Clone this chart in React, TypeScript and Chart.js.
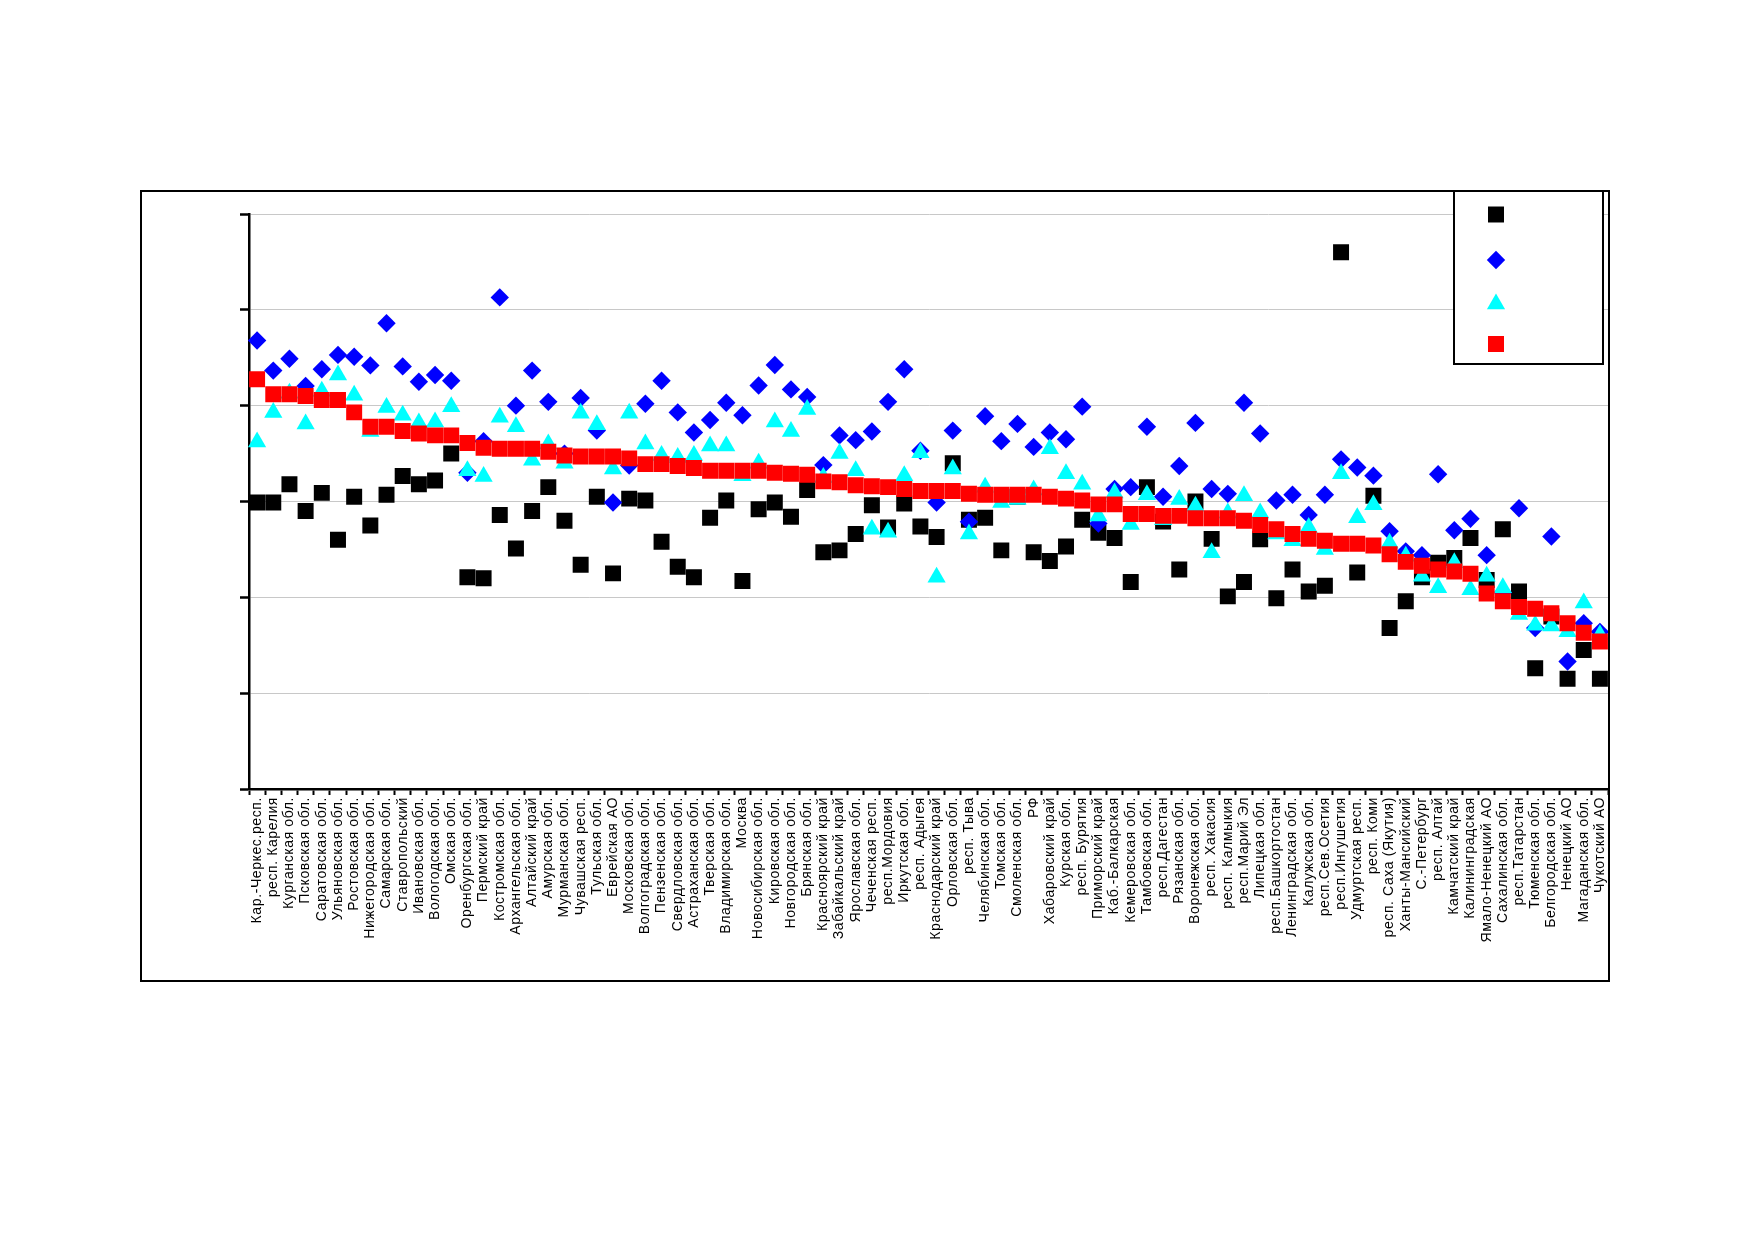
import React, { useEffect, useRef } from "react";
import { Chart, registerables } from "chart.js";
import { drawPoint } from "chart.js/helpers";

Chart.register(...registerables);

const categories = [
  "Кар.-Черкес.респ.", "респ. Карелия", "Курганская обл.", "Псковская обл.", "Саратовская обл.",
  "Ульяновская обл.", "Ростовская обл.", "Нижегородская обл.", "Самарская обл.", "Ставропольский",
  "Ивановская обл.", "Вологодская обл.", "Омская обл.", "Оренбургская обл.", "Пермский край",
  "Костромская обл.", "Архангельская обл.", "Алтайский край", "Амурская обл.", "Мурманская обл.",
  "Чувашская респ.", "Тульская обл.", "Еврейская АО", "Московская обл.", "Волгоградская обл.",
  "Пензенская обл.", "Свердловская обл.", "Астраханская обл.", "Тверская обл.", "Владимирская обл.",
  "Москва", "Новосибирская обл.", "Кировская обл.", "Новгородская обл.", "Брянская обл.",
  "Красноярский край", "Забайкальский край", "Ярославская обл.", "Чеченская респ.", "респ.Мордовия",
  "Иркутская обл.", "респ. Адыгея", "Краснодарский край", "Орловская обл.", "респ. Тыва",
  "Челябинская обл.", "Томская обл.", "Смоленская обл.", "РФ", "Хабаровский край",
  "Курская обл.", "респ. Бурятия", "Приморский край", "Каб.-Балкарская", "Кемеровская обл.",
  "Тамбовская обл.", "респ.Дагестан", "Рязанская обл.", "Воронежская обл.", "респ. Хакасия",
  "респ. Калмыкия", "респ.Марий Эл", "Липецкая обл.", "респ.Башкортостан", "Ленинградская обл.",
  "Калужская обл.", "респ.Сев.Осетия", "респ.Ингушетия", "Удмуртская респ.", "респ. Коми",
  "респ. Саха (Якутия)", "Ханты-Мансийский", "С.-Петербург", "респ. Алтай", "Камчатский край",
  "Калининградская", "Ямало-Ненецкий АО", "Сахалинская обл.", "респ.Татарстан", "Тюменская обл.",
  "Белгородская обл.", "Ненецкий АО", "Магаданская обл.", "Чукотский АО",
];

const blackValues = [
  29.9, 29.9, 31.8, 29.0, 30.9, 26.0, 30.5, 27.5, 30.7, 32.65,
  31.8, 32.2, 35.0, 22.1, 22.0, 28.6, 25.1, 29.0, 31.5, 28.0,
  23.4, 30.5, 22.5, 30.3, 30.1, 25.8, 23.2, 22.1, 28.3, 30.1,
  21.7, 29.2, 29.9, 28.4, 31.2, 24.7, 24.9, 26.6, 29.6, 27.3,
  29.8, 27.4, 26.3, 34.0, 28.1, 28.3, 24.9, 30.5, 24.7, 23.8,
  25.3, 28.1, 26.75, 26.2, 21.6, 31.5, 27.9, 22.9, 30.0, 26.1,
  20.1, 21.6, 26.05, 19.9, 22.9, 20.6, 21.2, 56.0, 22.6, 30.6,
  16.8, 19.6, 22.1, 23.6, 24.1, 26.2, 21.8, 27.1, 20.6, 12.6,
  18.0, 11.5, 14.5, 11.5,
];

const blueValues = [
  46.8, 43.66, 44.9, 42.05, 43.8, 45.3, 45.1, 44.2, 48.6, 44.1,
  42.5, 43.2, 42.6, 33.0, 36.3, 51.3, 40.0, 43.66, 40.4, 35.0,
  40.8, 37.4, 29.9, 33.75, 40.2, 42.6, 39.3, 37.2, 38.5, 40.3,
  39.0, 42.1, 44.25, 41.7, 40.9, 33.8, 36.9, 36.4, 37.3, 40.4,
  43.8, 35.3, 29.9, 37.4, 27.9, 38.9, 36.3, 38.1, 35.7, 37.2,
  36.5, 39.9, 27.7, 31.3, 31.5, 37.8, 30.5, 33.7, 38.2, 31.3,
  30.8, 40.3, 37.1, 30.1, 30.7, 28.6, 30.7, 34.4, 33.55, 32.7,
  26.9, 24.8, 24.4, 32.85, 27.0, 28.2, 24.4, 20.5, 29.3, 16.8,
  26.35, 13.3, 17.3, 16.4,
];

const cyanValues = [
  36.2, 39.3, 41.3, 38.1, 41.5, 43.2, 41.1, 37.3, 39.8, 39.0,
  38.2, 38.3, 39.9, 33.2, 32.6, 38.8, 37.8, 34.3, 36.0, 34.0,
  39.2, 38.0, 33.4, 39.2, 36.0, 34.8, 34.6, 34.8, 35.8, 35.8,
  32.7, 34.0, 38.3, 37.3, 39.6, 32.5, 35.0, 33.2, 27.1, 26.8,
  32.7, 35.1, 22.1, 33.4, 26.6, 31.5, 29.9, 30.2, 31.2, 35.5,
  32.9, 31.8, 28.5, 30.9, 27.6, 30.7, 28.1, 30.2, 29.5, 24.65,
  28.8, 30.6, 28.8, 26.6, 25.9, 27.3, 25.0, 32.9, 28.3, 29.65,
  25.65, 24.3, 22.2, 21.0, 23.6, 20.8, 22.2, 21.0, 18.2, 17.1,
  17.0, 16.4, 19.4, 16.1,
];

const redValues = [
  42.75, 41.2, 41.2, 41.0, 40.6, 40.6, 39.3, 37.8, 37.8, 37.35,
  37.1, 36.9, 36.9, 36.1, 35.6, 35.5, 35.5, 35.5, 35.2, 34.8,
  34.7, 34.7, 34.7, 34.5, 33.9, 33.9, 33.7, 33.5, 33.2, 33.2,
  33.2, 33.2, 33.0, 32.9, 32.8, 32.1, 32.0, 31.7, 31.6, 31.5,
  31.3, 31.1, 31.1, 31.1, 30.8, 30.7, 30.7, 30.7, 30.7, 30.5,
  30.3, 30.1, 29.7, 29.7, 28.7, 28.7, 28.5, 28.5, 28.25, 28.25,
  28.25, 28.0, 27.55, 27.1, 26.6, 26.1, 25.9, 25.6, 25.6, 25.4,
  24.5, 23.7, 23.3, 22.9, 22.7, 22.45, 20.4, 19.6, 19.0, 18.8,
  18.35, 17.3, 16.3, 15.4,
];

const yMin = 0;
const yMax = 60;
const yStep = 10;

// a bit of extra letter spacing for the category labels
const labelSpacing = {
  id: "labelSpacing",
  beforeDraw(chart: Chart) {
    (chart.ctx as any).letterSpacing = "0.6px";
  },
};

// legend in the top-right corner: bordered box, markers only
const legendBox = {
  id: "legendBox",
  afterDraw(chart: Chart) {
    const { ctx } = chart;
    const left = chart.width - 154;
    const right = chart.width - 5;
    const bottom = 172;
    ctx.save();
    ctx.fillStyle = "#fff";
    ctx.fillRect(left, 0, right - left, bottom);
    ctx.strokeStyle = "#000";
    ctx.lineWidth = 2;
    ctx.strokeRect(left, -4, right - left, bottom + 4);
    const rows = [22.5, 68, 112, 152];
    chart.data.datasets.forEach((ds: any, i: number) => {
      ctx.fillStyle = ds.pointBackgroundColor;
      ctx.strokeStyle = ds.pointBorderColor;
      drawPoint(ctx, { pointStyle: ds.pointStyle, radius: ds.pointRadius, borderWidth: 0, rotation: 0 }, left + 42, rows[i]);
    });
    ctx.restore();
  },
};

function markerSet(label: string, data: number[], color: string, style: string, radius: number, order: number) {
  return {
    label,
    data,
    showLine: false,
    pointStyle: style,
    pointRadius: radius,
    pointHoverRadius: radius,
    pointBackgroundColor: color,
    pointBorderColor: color,
    pointBorderWidth: 0,
    order,
  };
}

// the rotated last label should not push the plot in from the right
function noSidePadding(s: any) {
  for (const key of ["paddingLeft", "paddingRight"]) {
    Object.defineProperty(s, key, { get: () => 0, set: () => {}, configurable: true });
  }
}

export default function App() {
  const ref = useRef<HTMLCanvasElement | null>(null);

  useEffect(() => {
    const ctx = ref.current?.getContext("2d");
    if (!ctx) return;
    const chart = new Chart(ctx, {
      type: "line",
      data: {
        labels: categories,
        datasets: [
          markerSet("1", blackValues, "#000000", "rect", 11.3, 4),
          markerSet("2", blueValues, "#0000ff", "rectRot", 9.2, 3),
          markerSet("3", cyanValues, "#00ffff", "triangle", 10.5, 2),
          markerSet("4", redValues, "#ff0000", "rect", 11.3, 1),
        ] as any,
      },
      options: {
        animation: false,
        responsive: true,
        maintainAspectRatio: false,
        layout: { autoPadding: false, padding: { left: 87, right: 0, top: 22, bottom: 21 } },
        plugins: { legend: { display: false }, tooltip: { enabled: false } },
        scales: {
          x: {
            offset: true,
            grid: { drawOnChartArea: false, drawTicks: true, tickLength: 6, tickColor: "#000", tickWidth: 2, offset: true },
            border: { color: "#000", width: 2.5 },
            ticks: {
              autoSkip: false,
              minRotation: 90,
              maxRotation: 90,
              padding: 2,
              color: "#000",
              font: { family: "'Liberation Sans', Arial, sans-serif", size: 14 },
            },
            beforeFit: noSidePadding,
            afterFit: (s: any) => { s.height = 170; },
          },
          y: {
            min: yMin,
            max: yMax,
            ticks: { stepSize: yStep, display: false },
            grid: { color: "#c8c8c8", lineWidth: 1, tickColor: "#000", tickWidth: 2.5, tickLength: 9 },
            border: { color: "#000", width: 2.5 },
            afterFit: (s: any) => { s.width = 20; },
          },
        },
      },
      plugins: [labelSpacing, legendBox],
    });
    return () => chart.destroy();
  }, []);

  return (
    <div
      style={{
        position: "absolute",
        left: 140,
        top: 190,
        width: 1470,
        height: 792,
        border: "2px solid #000",
        boxSizing: "border-box",
        background: "#fff",
      }}
    >
      <div style={{ position: "relative", width: 1466, height: 788 }}>
        <canvas ref={ref} />
      </div>
    </div>
  );
}
